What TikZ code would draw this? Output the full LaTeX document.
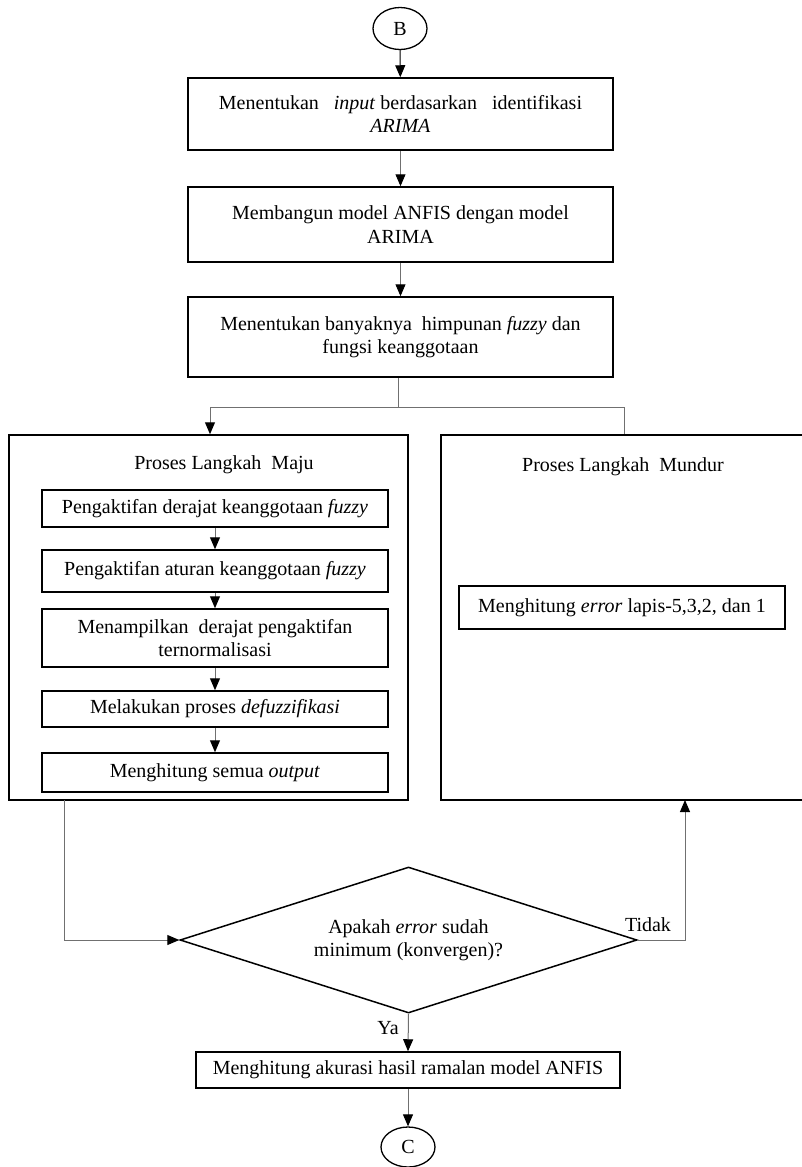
\documentclass[tikz,border=0pt]{standalone}
\usepackage{fontspec}
\setmainfont{Liberation Serif}
\usetikzlibrary{shapes.geometric,arrows.meta}
\definecolor{linegray}{HTML}{707070}
\begin{document}
\begin{tikzpicture}[x=1pt,y=-1pt,
  font=\fontsize{20}{23.5}\selectfont,
  box/.style={draw=black,line width=1.5pt,rectangle,inner sep=0pt,align=center},
  conn/.style={draw=linegray,line width=1pt},
  arr/.style={conn,-{Triangle[length=12pt,width=10pt,color=black]}},
  term/.style={draw=black,line width=1.3pt,ellipse,inner sep=0pt,minimum width=54pt},
  lbl/.style={inner sep=0pt}]
\clip (0,0) rectangle (802,1167);
\fill[white] (0,0) rectangle (802,1167);

% start connector
\node[term,minimum height=42pt] (B) at (400,28.5) {B};

% preparation steps
\node[box,minimum width=425pt,minimum height=72pt] (b1) at (400.5,114)
  {Menentukan\ \ \ \textit{input} berdasarkan\ \ \ identifikasi\\\textit{ARIMA}};
\node[box,minimum width=425pt,minimum height=75pt] (b2) at (400.5,224.5)
  {Membangun model ANFIS dengan model\\ARIMA};
\node[box,minimum width=425pt,minimum height=80pt] (b3) at (400.5,337)
  {Menentukan banyaknya\ \ himpunan \textit{fuzzy} dan\\fungsi keanggotaan};

% forward and backward pass containers
\node[box,minimum width=399pt,minimum height=365pt] (maju) at (208.5,617.5) {};
\node[lbl] (majut) at (224,465) {Proses Langkah\ \ Maju};
\node[box,minimum width=365pt,minimum height=365pt] (mundur) at (623.5,617.5) {};
\node[lbl] (mundurt) at (623,467) {Proses Langkah\ \ Mundur};

% forward pass steps
\node[box,minimum width=346pt,minimum height=37pt] (fa) at (215,508.5)
  {Pengaktifan derajat keanggotaan \textit{fuzzy}};
\node[box,minimum width=346pt,minimum height=42pt] (fb) at (215,571)
  {Pengaktifan aturan keanggotaan \textit{fuzzy}};
\node[box,minimum width=346pt,minimum height=58pt] (fc) at (215,638)
  {Menampilkan\ \ derajat pengaktifan\\ternormalisasi};
\node[box,minimum width=346pt,minimum height=36pt] (fd) at (215,709)
  {Melakukan proses \textit{defuzzifikasi}};
\node[box,minimum width=346pt,minimum height=39pt] (fe) at (215,772.5)
  {Menghitung semua \textit{output}};

% backward pass step
\node[box,minimum width=326pt,minimum height=43pt] (ra) at (622,607.5)
  {Menghitung \textit{error} lapis-5,3,2, dan 1};

% convergence test
\node[draw=black,line width=1.5pt,diamond,aspect=3.16,inner sep=0pt,
  minimum width=457pt,minimum height=146pt,align=center] (dec) at (408.5,940)
  {Apakah \textit{error} sudah\\minimum (konvergen)?};

% final step and end connector
\node[box,minimum width=424pt,minimum height=36pt] (acc) at (408,1070)
  {Menghitung akurasi hasil ramalan model ANFIS};
\node[term,minimum height=40pt] (C) at (408,1147) {C};

% junction points
\coordinate (jm) at (398,407);
\coordinate (jl) at (210,407);
\coordinate (jr) at (624,407);
\coordinate (mout) at (64,800);
\coordinate (min) at (685,800);

% connectors
\draw[arr,draw=black] (B) -- (b1);
\draw[arr] (b1) -- (b2);
\draw[arr] (b2) -- (b3);
\draw[conn] (b3.south -| jm) -- (jm);
\draw[conn] (jl) -- (jr);
\draw[arr] (jl) -- (jl |- maju.north);
\draw[conn] (jr) -- (jr |- mundur.north);
\draw[arr] (fa) -- (fb);
\draw[arr] (fb) -- (fc);
\draw[arr] (fc) -- (fd);
\draw[arr] (fd) -- (fe);
\draw[arr] (mout) |- (dec.west);
\draw[arr] (dec.east) -| (min);
\draw[arr] (dec.south) -- (acc.north);
\draw[arr] (acc) -- (C);

% branch labels
\node[lbl] (tidak) at (648,925) {Tidak};
\node[lbl] (ya) at (388,1028) {Ya};
\end{tikzpicture}
\end{document}
